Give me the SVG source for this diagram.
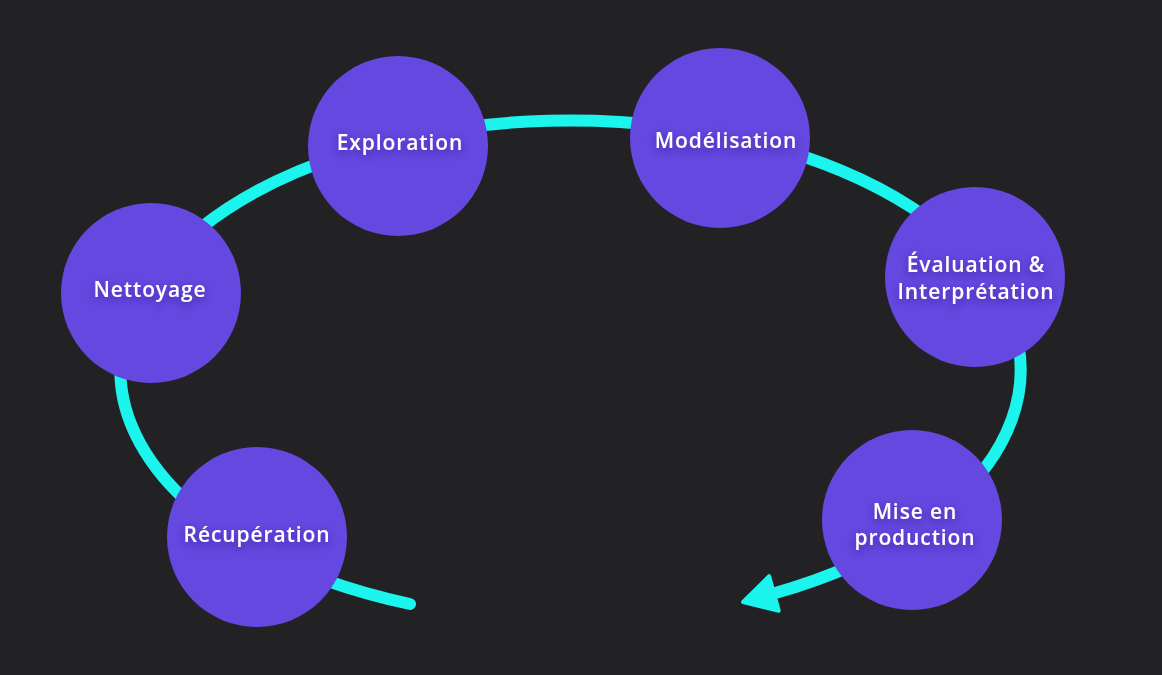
<svg xmlns="http://www.w3.org/2000/svg" width="1162" height="675" viewBox="0 0 1162 675">
  <defs>
    <style>
      .bg { fill: #222124; }
      .flow { fill: none; stroke: #1cf4ee; stroke-width: 12; stroke-linecap: round; }
      .node { fill: #6448e0; }
      .label { fill: #ffffff; font-family: "Open Sans", "Liberation Sans", sans-serif; font-weight: 600; font-size: 21px; letter-spacing: 0.9px; text-anchor: middle; filter: url(#tshadow); }
    </style>
    <filter id="tshadow" x="-30%" y="-80%" width="160%" height="260%">
      <feGaussianBlur in="SourceAlpha" stdDeviation="4"/>
      <feOffset dy="3" result="b"/>
      <feFlood flood-color="#2a1a7a" flood-opacity="0.6"/>
      <feComposite in2="b" operator="in"/>
      <feMerge><feMergeNode/><feMergeNode in="SourceGraphic"/></feMerge>
    </filter>
    <marker id="arrow" markerUnits="userSpaceOnUse" markerWidth="50" markerHeight="50" refX="2" refY="0" viewBox="-4 -25 44 50" orient="auto">
      <path d="M0,-18 L32,0 L0,18 Z" fill="#1cf4ee" stroke="#1cf4ee" stroke-width="4" stroke-linejoin="round"/>
    </marker>
  </defs>
  <rect class="bg" x="0" y="0" width="1162" height="675"/>
  <g id="connectors">
    <path class="flow" d="M410,604 A450,250 0 1 1 772,594" marker-end="url(#arrow)"/>
  </g>
  <g id="node-exploration">
    <circle class="node" cx="398" cy="146" r="90"/>
    <text class="label" x="400" y="150">Exploration</text>
  </g>
  <g id="node-modelisation">
    <circle class="node" cx="720" cy="138" r="90"/>
    <text class="label" x="726" y="148">Modélisation</text>
  </g>
  <g id="node-nettoyage">
    <circle class="node" cx="151" cy="293" r="90"/>
    <text class="label" x="150" y="297">Nettoyage</text>
  </g>
  <g id="node-evaluation">
    <circle class="node" cx="975" cy="277" r="90"/>
    <text class="label" x="976" y="272">Évaluation &amp;</text>
    <text class="label" x="976" y="299">Interprétation</text>
  </g>
  <g id="node-recuperation">
    <circle class="node" cx="257" cy="537" r="90"/>
    <text class="label" x="257" y="542">Récupération</text>
  </g>
  <g id="node-production">
    <circle class="node" cx="912" cy="520" r="90"/>
    <text class="label" x="915" y="519">Mise en</text>
    <text class="label" x="915" y="545">production</text>
  </g>
</svg>
